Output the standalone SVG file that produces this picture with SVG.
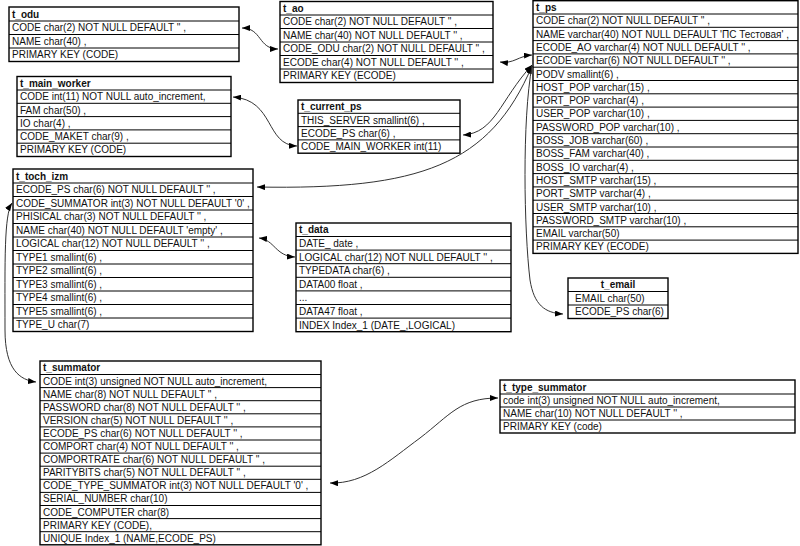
<svg xmlns="http://www.w3.org/2000/svg" width="800" height="546" viewBox="0 0 800 546">
<style>
.bx{fill:#fff;stroke:#000;stroke-width:1.4}
.rl{fill:none;stroke:#000;stroke-width:1}
text{font-family:"Liberation Sans",Arial,sans-serif;font-size:10px;fill:#111}
.h{font-weight:bold}
.c{fill:none;stroke:#333;stroke-width:1}
</style>
<defs>
<marker id="ar" viewBox="0 0 8 6" refX="8" refY="3" markerWidth="8" markerHeight="6" markerUnits="userSpaceOnUse" orient="auto-start-reverse">
<path d="M0,0 L8,3 L0,6 Z" fill="#000"/>
</marker>
</defs>
<rect width="800" height="546" fill="#fff"/>

<g id="connectors">
<path class="c" d="M242,28 C262,28 258,49 278,49" marker-start="url(#ar)" marker-end="url(#ar)"/>
<path class="c" d="M233,97 C275,100 265,145 297,146" marker-start="url(#ar)" marker-end="url(#ar)"/>
<path class="c" d="M500,62 C514,64 518,56 532,55" marker-start="url(#ar)" marker-end="url(#ar)"/>
<path class="c" d="M463,135 C495,133 500,100 532,65" marker-start="url(#ar)" marker-end="url(#ar)"/>
<path class="c" d="M257,187 C420,190 490,165 532,66" marker-start="url(#ar)" marker-end="url(#ar)"/>
<path class="c" d="M532,66 C522,120 524,230 530,280 C534,305 545,313 563,314" marker-end="url(#ar)"/>
<path class="c" d="M259,238 C275,240 275,256 295,257" marker-start="url(#ar)" marker-end="url(#ar)"/>
<path class="c" d="M12,203 C4,215 5,260 5,330 C5,370 20,380 36,382" marker-start="url(#ar)" marker-end="url(#ar)"/>
<path class="c" d="M330,483 C365,484 390,460 420,438 C450,415 460,398 498,398" marker-start="url(#ar)" marker-end="url(#ar)"/>
</g>

<g id="t_odu">
<rect class="bx" x="9" y="7" width="230" height="54.5"/>
<path class="rl" d="M9,21H239M9,34.5H239M9,48H239"/>
<text class="h" x="12" y="17.5">t_odu</text>
<text x="12" y="31.3">CODE char(2) NOT NULL DEFAULT '' ,</text>
<text x="12" y="44.8">NAME char(40) ,</text>
<text x="12" y="58.3">PRIMARY KEY (CODE)</text>
</g>

<g id="t_ao">
<rect class="bx" x="280" y="1.5" width="213" height="81"/>
<path class="rl" d="M280,15H493M280,28.5H493M280,42H493M280,55.5H493M280,69H493"/>
<text class="h" x="283" y="11.8">t_ao</text>
<text x="283" y="25.3">CODE char(2) NOT NULL DEFAULT '' ,</text>
<text x="283" y="38.8">NAME char(40) NOT NULL DEFAULT '' ,</text>
<text x="283" y="52.3">CODE_ODU char(2) NOT NULL DEFAULT '' ,</text>
<text x="283" y="65.8">ECODE char(4) NOT NULL DEFAULT '' ,</text>
<text x="283" y="79.3">PRIMARY KEY (ECODE)</text>
</g>

<g id="t_main_worker">
<rect class="bx" x="17" y="76.5" width="214" height="80"/>
<path class="rl" d="M17,90H231M17,103.3H231M17,116.6H231M17,129.9H231M17,143.2H231"/>
<text class="h" x="20" y="86.8">t_main_worker</text>
<text x="20" y="100.2">CODE int(11) NOT NULL auto_increment,</text>
<text x="20" y="113.5">FAM char(50) ,</text>
<text x="20" y="126.8">IO char(4) ,</text>
<text x="20" y="140.1">CODE_MAKET char(9) ,</text>
<text x="20" y="153.4">PRIMARY KEY (CODE)</text>
</g>

<g id="t_current_ps">
<rect class="bx" x="298" y="100" width="162" height="53.2"/>
<path class="rl" d="M298,113.3H460M298,126.6H460M298,139.9H460"/>
<text class="h" x="301" y="110.2">t_current_ps</text>
<text x="301" y="123.5">THIS_SERVER smallint(6) ,</text>
<text x="301" y="136.8">ECODE_PS char(6) ,</text>
<text x="301" y="150.1">CODE_MAIN_WORKER int(11)</text>
</g>

<g id="t_ps">
<rect class="bx" x="533" y="0.7" width="265" height="252.7"/>
<path class="rl" d="M533,14H798M533,27.3H798M533,40.6H798M533,53.9H798M533,67.2H798M533,80.5H798M533,93.8H798M533,107.1H798M533,120.4H798M533,133.7H798M533,147H798M533,160.3H798M533,173.6H798M533,186.9H798M533,200.2H798M533,213.5H798M533,226.8H798M533,240.1H798"/>
<text class="h" x="536" y="10.8">t_ps</text>
<text x="536" y="24.3">CODE char(2) NOT NULL DEFAULT '' ,</text>
<text x="536" y="37.6">NAME varchar(40) NOT NULL DEFAULT 'ПС Тестовая' ,</text>
<text x="536" y="50.9">ECODE_AO varchar(4) NOT NULL DEFAULT '' ,</text>
<text x="536" y="64.2">ECODE varchar(6) NOT NULL DEFAULT '' ,</text>
<text x="536" y="77.5">PODV smallint(6) ,</text>
<text x="536" y="90.8">HOST_POP varchar(15) ,</text>
<text x="536" y="104.1">PORT_POP varchar(4) ,</text>
<text x="536" y="117.4">USER_POP varchar(10) ,</text>
<text x="536" y="130.7">PASSWORD_POP varchar(10) ,</text>
<text x="536" y="144">BOSS_JOB varchar(60) ,</text>
<text x="536" y="157.3">BOSS_FAM varchar(40) ,</text>
<text x="536" y="170.6">BOSS_IO varchar(4) ,</text>
<text x="536" y="183.9">HOST_SMTP varchar(15) ,</text>
<text x="536" y="197.2">PORT_SMTP varchar(4) ,</text>
<text x="536" y="210.5">USER_SMTP varchar(10) ,</text>
<text x="536" y="223.8">PASSWORD_SMTP varchar(10) ,</text>
<text x="536" y="237.1">EMAIL varchar(50)</text>
<text x="536" y="250.4">PRIMARY KEY (ECODE)</text>
</g>

<g id="t_toch_izm">
<rect class="bx" x="13" y="169" width="240" height="162.5"/>
<path class="rl" d="M13,183H253M13,196.5H253M13,210H253M13,223.5H253M13,237H253M13,250.5H253M13,264H253M13,277.5H253M13,291H253M13,304.5H253M13,318H253"/>
<text class="h" x="16" y="179.6">t_toch_izm</text>
<text x="16" y="193.4">ECODE_PS char(6) NOT NULL DEFAULT '' ,</text>
<text x="16" y="206.9">CODE_SUMMATOR int(3) NOT NULL DEFAULT '0' ,</text>
<text x="16" y="220.4">PHISICAL char(3) NOT NULL DEFAULT '' ,</text>
<text x="16" y="233.9">NAME char(40) NOT NULL DEFAULT 'empty' ,</text>
<text x="16" y="247.4">LOGICAL char(12) NOT NULL DEFAULT '' ,</text>
<text x="16" y="260.9">TYPE1 smallint(6) ,</text>
<text x="16" y="274.4">TYPE2 smallint(6) ,</text>
<text x="16" y="287.9">TYPE3 smallint(6) ,</text>
<text x="16" y="301.4">TYPE4 smallint(6) ,</text>
<text x="16" y="314.9">TYPE5 smallint(6) ,</text>
<text x="16" y="328.4">TYPE_U char(7)</text>
</g>

<g id="t_data">
<rect class="bx" x="296" y="223" width="215" height="108.7"/>
<path class="rl" d="M296,236.5H511M296,250.1H511M296,263.7H511M296,277.3H511M296,290.9H511M296,304.5H511M296,318.1H511"/>
<text class="h" x="299" y="233.3">t_data</text>
<text x="299" y="247">DATE_ date ,</text>
<text x="299" y="260.6">LOGICAL char(12) NOT NULL DEFAULT '' ,</text>
<text x="299" y="274.2">TYPEDATA char(6) ,</text>
<text x="299" y="287.8">DATA00 float ,</text>
<text x="299" y="301.4">...</text>
<text x="299" y="315">DATA47 float ,</text>
<text x="299" y="328.6">INDEX Index_1 (DATE_,LOGICAL)</text>
</g>

<g id="t_email">
<rect class="bx" x="568" y="278" width="100" height="40.5"/>
<path class="rl" d="M568,291.5H668M568,305H668"/>
<text class="h" x="618" y="288.3" text-anchor="middle">t_email</text>
<text x="575" y="301.9">EMAIL char(50)</text>
<text x="575" y="315.4">ECODE_PS char(6)</text>
</g>

<g id="t_summator">
<rect class="bx" x="40" y="361" width="281" height="183.8"/>
<path class="rl" d="M40,374.5H321M40,387.6H321M40,400.7H321M40,413.8H321M40,426.9H321M40,440H321M40,453.1H321M40,466.2H321M40,479.3H321M40,492.4H321M40,505.5H321M40,518.6H321M40,531.7H321"/>
<text class="h" x="43" y="371.3">t_summator</text>
<text x="43" y="384.5">CODE int(3) unsigned NOT NULL auto_increment,</text>
<text x="43" y="397.6">NAME char(8) NOT NULL DEFAULT '' ,</text>
<text x="43" y="410.7">PASSWORD char(8) NOT NULL DEFAULT '' ,</text>
<text x="43" y="423.8">VERSION char(5) NOT NULL DEFAULT '' ,</text>
<text x="43" y="436.9">ECODE_PS char(6) NOT NULL DEFAULT '' ,</text>
<text x="43" y="450">COMPORT char(4) NOT NULL DEFAULT '' ,</text>
<text x="43" y="463.1">COMPORTRATE char(6) NOT NULL DEFAULT '' ,</text>
<text x="43" y="476.2">PARITYBITS char(5) NOT NULL DEFAULT '' ,</text>
<text x="43" y="489.3">CODE_TYPE_SUMMATOR int(3) NOT NULL DEFAULT '0' ,</text>
<text x="43" y="502.4">SERIAL_NUMBER char(10)</text>
<text x="43" y="515.5">CODE_COMPUTER char(8)</text>
<text x="43" y="528.6">PRIMARY KEY (CODE),</text>
<text x="43" y="541.7">UNIQUE Index_1 (NAME,ECODE_PS)</text>
</g>

<g id="t_type_summator">
<rect class="bx" x="500" y="380" width="295" height="53"/>
<path class="rl" d="M500,394H795M500,407H795M500,420H795"/>
<text class="h" x="503" y="390.6">t_type_summator</text>
<text x="503" y="404">code int(3) unsigned NOT NULL auto_increment,</text>
<text x="503" y="417">NAME char(10) NOT NULL DEFAULT '' ,</text>
<text x="503" y="430">PRIMARY KEY (code)</text>
</g>
</svg>
